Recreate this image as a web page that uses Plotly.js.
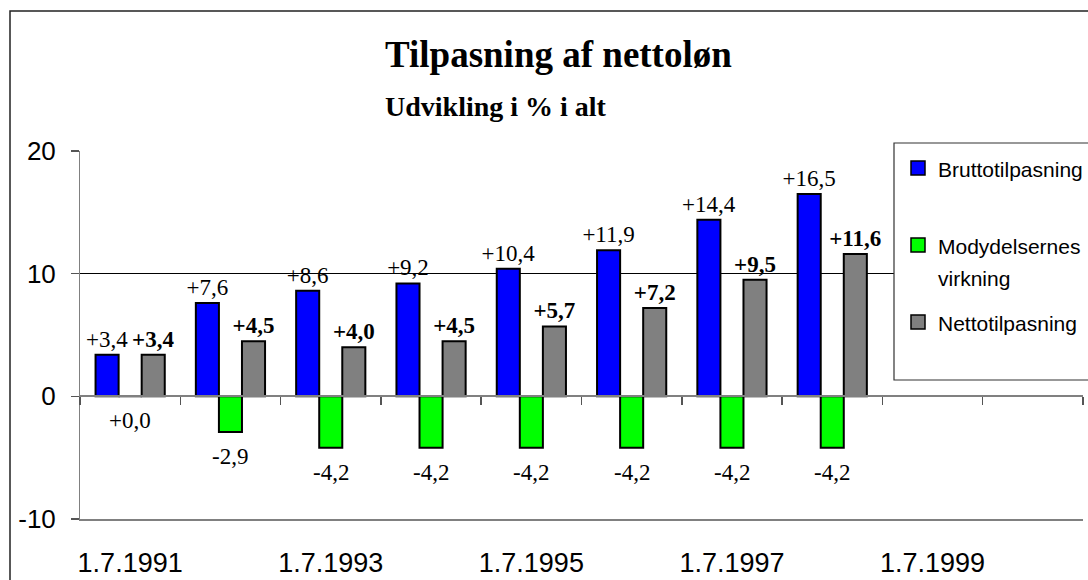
<!DOCTYPE html>
<html>
<head>
<meta charset="utf-8">
<script src="https://cdn.plot.ly/plotly-3.0.1.min.js"></script>
<style>
html,body{margin:0;padding:0;background:#fff;}
#chart{width:1088px;height:580px;}
</style>
</head>
<body>
<div id="chart"></div>
<script>
const categories = ['1.7.1991','1.7.1992','1.7.1993','1.7.1994','1.7.1995','1.7.1996','1.7.1997','1.7.1998','1.7.1999','1.7.2000'];
const brutto = [3.4, 7.6, 8.6, 9.2, 10.4, 11.9, 14.4, 16.5, null, null];
const modydelser = [0.0, -2.9, -4.2, -4.2, -4.2, -4.2, -4.2, -4.2, null, null];
const netto = [3.4, 4.5, 4.0, 4.5, 5.7, 7.2, 9.5, 11.6, null, null];
const tickLabels = ['1.7.1991','1.7.1993','1.7.1995','1.7.1997','1.7.1999'];
const yTicks = [-10, 0, 10, 20];
const seriesNames = ['Bruttotilpasning', 'Modydelsernes virkning', 'Nettotilpasning'];
const titleText = 'Tilpasning af nettoløn';
const subtitleText = 'Udvikling i % i alt';

const fmt = v => (v === null ? '' : (v >= 0 ? '+' : '') + v.toFixed(1).replace('.', ','));
const SERIF = 'Liberation Serif, Times New Roman, serif';
const SANS = 'Liberation Sans, Arial, sans-serif';
const colors = ['#0000FF', '#00FF00', '#808080'];

const traces = [
  {
    type: 'bar', name: seriesNames[0], x: categories, y: brutto,
    marker: {color: colors[0], line: {color: '#000', width: 2}},
    text: brutto.map(fmt), textposition: 'outside', cliponaxis: false, constraintext: 'none',
    textfont: {family: SERIF, size: 23, color: '#000'}, hoverinfo: 'x+y'
  },
  {
    type: 'bar', name: seriesNames[1], x: categories, y: modydelser,
    marker: {color: colors[1], line: {color: '#000', width: 2}},
    hoverinfo: 'x+y'
  },
  {
    type: 'bar', name: seriesNames[2], x: categories, y: netto,
    marker: {color: colors[2], line: {color: '#000', width: 2}},
    text: netto.map(fmt), textposition: 'outside', cliponaxis: false, constraintext: 'none',
    textfont: {family: SERIF, size: 23, color: '#000', weight: 'bold'}, hoverinfo: 'x+y'
  },
  {
    type: 'scatter', mode: 'markers', x: categories, y: categories.map(() => null),
    xaxis: 'x2', yaxis: 'y', showlegend: false, hoverinfo: 'skip'
  }
];

// paper coordinate helpers (plot area: x 80..1083, y 151..519)
const L = 80, R = 1083, T = 151, B = 519;
const px = v => (v - L) / (R - L);
const py = v => (B - v) / (B - T);

const annotations = [];
modydelser.forEach((v, i) => {
  if (v === null) return;
  annotations.push({
    x: categories[i], y: v, xref: 'x', yref: 'y', text: fmt(v), showarrow: false,
    yanchor: 'top', yshift: -10, font: {family: SERIF, size: 23, color: '#000'}
  });
});
annotations.push({
  xref: 'paper', yref: 'paper', x: px(383), y: py(54), xanchor: 'left', yanchor: 'middle',
  text: '<b>' + titleText + '</b>', showarrow: false, font: {family: SERIF, size: 37, color: '#000'}
});
annotations.push({
  xref: 'paper', yref: 'paper', x: px(383), y: py(106), xanchor: 'left', yanchor: 'middle',
  text: '<b>' + subtitleText + '</b>', showarrow: false, font: {family: SERIF, size: 28, color: '#000'}
});

// legend (drawn manually to match spacing)
const legText = [[seriesNames[0]], ['Modydelsernes', 'virkning'], [seriesNames[2]]];
const legY = [168, 245, 322];
const shapes = [
  {type: 'rect', xref: 'paper', yref: 'paper', x0: px(10), x1: px(1100), y0: py(11), y1: py(600),
   line: {color: '#222', width: 1.5}, fillcolor: 'rgba(0,0,0,0)', layer: 'above'},
  {type: 'rect', xref: 'paper', yref: 'paper', x0: px(894), x1: px(1100), y0: py(143), y1: py(380),
   line: {color: '#333', width: 1.2}, fillcolor: '#fff', layer: 'above'}
];
legText.forEach((lines, k) => {
  shapes.push({type: 'rect', xref: 'paper', yref: 'paper', x0: px(911), x1: px(925),
    y0: py(legY[k] - 7), y1: py(legY[k] + 7), line: {color: '#000', width: 1.5},
    fillcolor: colors[k], layer: 'above'});
  lines.forEach((t, j) => {
    annotations.push({xref: 'paper', yref: 'paper', x: px(936), y: py(legY[k] + 1 + j * 32),
      xanchor: 'left', yanchor: 'middle', text: t, showarrow: false,
      font: {family: SANS, size: 21, color: '#000'}});
  });
});

const layout = {
  width: 1088, height: 580,
  margin: {l: L, r: 1088 - R, t: T, b: 580 - B, pad: 0},
  paper_bgcolor: '#fff', plot_bgcolor: '#fff',
  showlegend: false,
  barmode: 'group', bargap: 0.31, bargroupgap: 0,
  xaxis: {
    type: 'category', categoryorder: 'array', categoryarray: categories,
    range: [-0.5, categories.length - 0.5], anchor: 'free', position: 1 / 3,
    showline: true, linecolor: '#808080', linewidth: 2,
    ticks: 'outside', tickson: 'boundaries', ticklen: 8, tickcolor: '#555', tickwidth: 1.5,
    showticklabels: false, showgrid: false, zeroline: false, fixedrange: true
  },
  xaxis2: {
    type: 'category', categoryorder: 'array', categoryarray: categories,
    range: [-0.5, categories.length - 0.5], overlaying: 'x', anchor: 'y', side: 'bottom',
    showline: true, linecolor: '#808080', linewidth: 2, ticks: '',
    tickmode: 'array', tickvals: tickLabels, ticktext: tickLabels,
    tickfont: {family: SANS, size: 27, color: '#000'}, ticklabelstandoff: 19,
    showgrid: false, zeroline: false, fixedrange: true
  },
  yaxis: {
    range: [-10, 20], tickmode: 'array', tickvals: yTicks, ticktext: yTicks.map(String),
    showgrid: true, gridcolor: '#000', gridwidth: 1,
    showline: true, linecolor: '#808080', linewidth: 1,
    ticks: 'outside', ticklen: 8, tickcolor: '#555', tickwidth: 1.5,
    tickfont: {family: SANS, size: 26, color: '#000'}, ticklabelstandoff: 10,
    zeroline: false, fixedrange: true
  },
  annotations: annotations,
  shapes: shapes
};

Plotly.newPlot('chart', traces, layout, {displayModeBar: false, staticPlot: true});
</script>
</body>
</html>
